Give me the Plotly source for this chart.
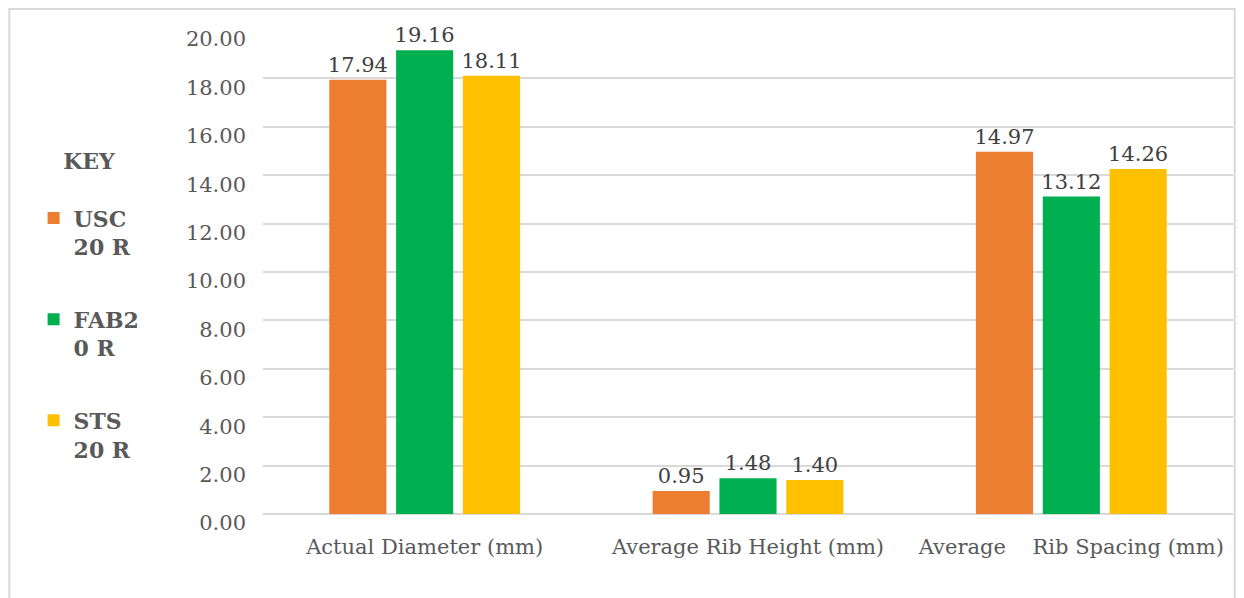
import plotly.graph_objects as go

categories = ["Actual Diameter (mm)", "Average Rib Height (mm)", "Average\u00a0\u00a0\u00a0 Rib Spacing (mm)"]
series_names = ["<b>USC<br>20 R</b>", "<b>FAB2<br>0 R</b>", "<b>STS<br>20 R</b>"]
usc_values = [17.94, 0.95, 14.97]
fab_values = [19.16, 1.48, 13.12]
sts_values = [18.11, 1.40, 14.26]
y_ticks = [0, 2, 4, 6, 8, 10, 12, 14, 16, 18, 20]

colors = ["#ED7D31", "#00B050", "#FFC000"]
font_family = "DejaVu Serif"

fig = go.Figure()
for i, (name, vals) in enumerate(zip(series_names, [usc_values, fab_values, sts_values])):
    fig.add_trace(go.Bar(
        x=categories, y=vals, name=name, legendgroup=f"g{i}",
        marker=dict(color=colors[i], line=dict(width=0)),
        text=[f"{v:.2f}" for v in vals], textposition="outside",
        textfont=dict(family=font_family, size=21, color="#404040"),
        constraintext="none", cliponaxis=False,
    ))

fig.update_layout(
    width=1244, height=598, autosize=False,
    paper_bgcolor="white", plot_bgcolor="white",
    margin=dict(l=263, r=11, t=30, b=84, autoexpand=False),
    barmode="group", bargap=0.38, bargroupgap=0.145,
    font=dict(family=font_family, color="#595959"),
    showlegend=True,
    legend=dict(
        xref="container", yref="container", x=0.027, y=0.766,
        xanchor="left", yanchor="top",
        title=dict(text="<b>KEY</b><br> ", side="top center", font=dict(family=font_family, size=22, color="#595959")),
        font=dict(family=font_family, size=22, color="#595959"),
        tracegroupgap=41, valign="top", bgcolor="rgba(0,0,0,0)",
        maxheight=560,
    ),
    xaxis=dict(
        showgrid=False, showline=False, zeroline=False, automargin=False,
        tickfont=dict(family=font_family, size=21, color="#595959"),
        ticks="", ticklabelstandoff=18,
    ),
    yaxis=dict(
        range=[0, 20], tickvals=y_ticks, tickformat=".2f", automargin=False,
        showgrid=True, gridcolor="#D9D9D9", gridwidth=1.5,
        zeroline=True, zerolinecolor="#D9D9D9", zerolinewidth=1.5,
        showline=False, ticks="",
        tickfont=dict(family=font_family, size=21, color="#595959"),
        ticklabelstandoff=16, ticklabelshift=9,
    ),
    shapes=[dict(type="rect", xref="paper", yref="paper",
                 x0=-0.2615, x1=1.0018, y0=-0.2, y1=1.0434,
                 line=dict(color="#D9D9D9", width=2), fillcolor="rgba(0,0,0,0)", layer="below")],
)

fig.write_html("out.html", config={"displayModeBar": False},
               post_script="document.body.style.margin='0';")
